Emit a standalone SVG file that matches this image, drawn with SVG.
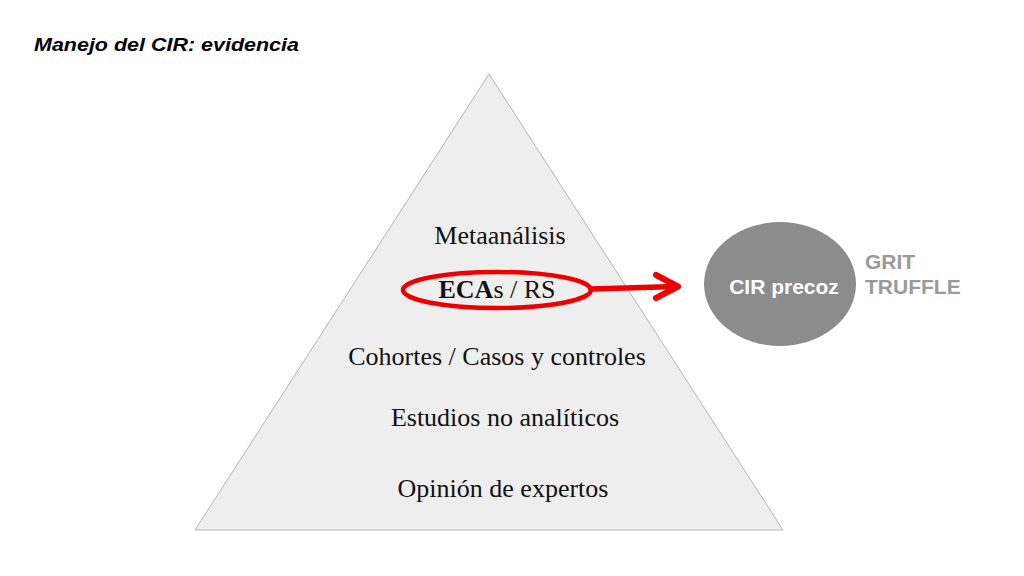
<svg xmlns="http://www.w3.org/2000/svg" width="1024" height="576" viewBox="0 0 1024 576">
<style>
.lvl{font-family:"Liberation Serif","Times New Roman",serif;font-size:26px;fill:#111;text-anchor:middle}
.side{font-family:"Liberation Sans",Arial,sans-serif;font-size:21px;font-weight:bold;fill:#999999}
</style>
<rect width="1024" height="576" fill="#fff"/>
<text x="34" y="51" font-family="'Liberation Sans',Arial,sans-serif" font-size="19" font-weight="bold" font-style="italic" fill="#000" textLength="265" lengthAdjust="spacingAndGlyphs">Manejo del CIR: evidencia</text>
<g id="pyramid">
<polygon points="489,74 195,530 783,530" fill="#eeeeee" stroke="#b4b4b4" stroke-width="1"/>
<text class="lvl" x="500" y="244">Metaanálisis</text>
<text class="lvl" x="497" y="298"><tspan font-weight="bold">ECA</tspan>s / RS</text>
<text class="lvl" x="497" y="365">Cohortes / Casos y controles</text>
<text class="lvl" x="505" y="426">Estudios no analíticos</text>
<text class="lvl" x="503" y="497">Opinión de expertos</text>
</g>
<g id="highlight">
<ellipse cx="497" cy="290" rx="94" ry="18" fill="none" stroke="#ee0000" stroke-width="4.5"/>
</g>
<g id="connectors">
<line x1="591" y1="289" x2="676" y2="286.5" stroke="#ee0000" stroke-width="5.5" stroke-linecap="round"/>
<polyline points="656,275 678,286.5 656,298" fill="none" stroke="#ee0000" stroke-width="6" stroke-linecap="round" stroke-linejoin="round"/>
</g>
<g id="cir-precoz">
<ellipse cx="780" cy="284" rx="76" ry="62" fill="#8c8c8c"/>
<text x="784" y="294" font-family="'Liberation Sans',Arial,sans-serif" font-size="21" font-weight="bold" fill="#fff" text-anchor="middle">CIR precoz</text>
</g>
<g id="trials">
<text class="side" x="865" y="269">GRIT</text>
<text class="side" x="865" y="294">TRUFFLE</text>
</g>
</svg>
